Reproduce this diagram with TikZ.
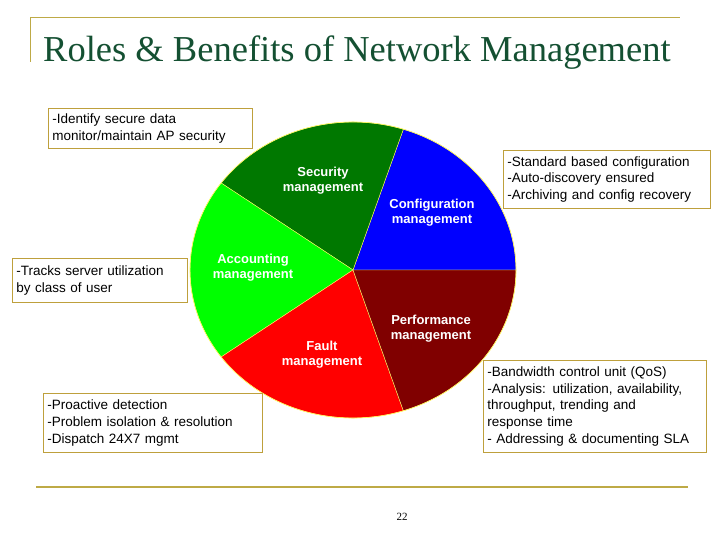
\documentclass[tikz,border=0pt]{standalone}
\usepackage{fontspec}
\setmainfont{Liberation Sans}
\begin{document}
\begin{tikzpicture}[x=1pt,y=-1pt,
  infobox/.style={draw=boxc,fill=white,line width=0.7pt,align=left,anchor=north west,inner xsep=4pt,inner ysep=3pt,font=\fontsize{13.5}{16.8}\selectfont},
  plabel/.style={text=white,font=\bfseries\fontsize{13}{15}\selectfont,align=center}]
\useasboundingbox (0,0) rectangle (720,540);
\definecolor{goldc}{RGB}{190,170,70}
\definecolor{titlec}{RGB}{20,80,50}
\definecolor{boxc}{RGB}{190,160,60}
\draw[goldc,line width=1pt] (30,62) -- (30,18) -- (680,18);
\draw[goldc,line width=1.5pt] (36,487) -- (688,487);
\node[anchor=base west,text=titlec,inner sep=0] (title) at (43,62) {\fontspec{Liberation Serif}\fontsize{36.5}{40}\selectfont Roles \& Benefits of Network Management};
% pie
\coordinate (c) at (353,270);
\def\rx{163}\def\ry{-148}
\foreach \a/\b/\col in {0/72/blue, 72/144/green!47!black, 144/216/green, 216/288/red, 288/360/red!50!black}{
  \fill[\col,draw=yellow!60,line width=0.4pt] (c) -- ++({\rx*cos(\a)},{\ry*sin(\a)}) arc[start angle=\a,end angle=\b,x radius=\rx,y radius=\ry] -- cycle;
}
\draw[yellow!60!white,line width=0.6pt] (c) ellipse[x radius=163,y radius=148];
\node[plabel] (sec) at (323,181) {Security\\management};
\node[plabel] (conf) at (432,213) {Configuration\\management};
\node[plabel] (acc) at (253,268) {Accounting\\management};
\node[plabel] (perf) at (431,329) {Performance\\management};
\node[plabel] (fault) at (322,355) {Fault\\management};
% boxes
\node[infobox,text width=196,minimum height=40] (b1) at (48,108) {-Identify secure data\\monitor/maintain AP security};
\node[infobox,text width=199,minimum height=58] (b2) at (503,150) {-Standard based configuration\\-Auto-discovery ensured\\-Archiving and config recovery};
\node[infobox,text width=167,minimum height=44] (b3) at (12,258) {-Tracks server utilization\\by class of user};
\node[infobox,text width=211,minimum height=59] (b4) at (43,393) {-Proactive detection\\-Problem isolation \& resolution\\-Dispatch 24X7 mgmt};
\node[infobox,text width=215,minimum height=92] (b5) at (483,360) {-Bandwidth control unit (QoS)\\-Analysis: utilization, availability,\\throughput, trending and\\response time\\- Addressing \& documenting SLA};
\node[font=\fontspec{Liberation Serif}\fontsize{11}{12}\selectfont] (pg) at (402,517) {22};
\end{tikzpicture}
\end{document}
